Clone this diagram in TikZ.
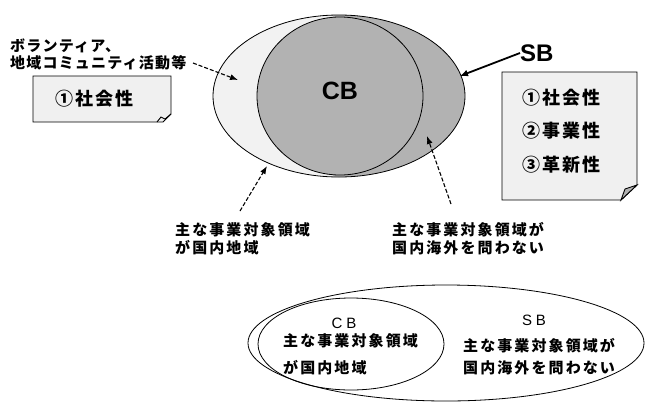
\documentclass[tikz,border=0pt]{standalone}
\usepackage{fontspec}
\setmainfont{Liberation Sans}
\newfontfamily\jp[LetterSpace=14]{Noto Sans CJK JP}
\newfontfamily\jpn[LetterSpace=8]{Noto Sans CJK JP}
\newfontfamily\jpbox[LetterSpace=12]{Noto Sans CJK JP}
\newfontfamily\latsp[LetterSpace=25]{Liberation Sans}
\usetikzlibrary{arrows.meta}
\definecolor{darkfill}{HTML}{B2B2B2}
\definecolor{lightfill}{HTML}{F2F2F2}
\definecolor{boxfill}{HTML}{F0F0F0}
\tikzset{
  outline/.style={draw=black, line width=0.8pt},
  txt/.style={inner sep=0pt, anchor=west, align=left},
  lbl/.style={txt, font=\jp\bfseries\fontsize{15}{18}\selectfont},
  boxtxt/.style={txt, font=\jpbox\bfseries\fontsize{18}{20}\selectfont},
  dasharrow/.style={draw=black, line width=1.1pt, dashed, dash pattern=on 4pt off 2pt, -{Latex[length=8pt,width=6pt]}},
  solidarrow/.style={draw=black, line width=1.8pt, -{Latex[length=8pt,width=7pt]}},
  memo/.style={draw=black, line width=0.9pt, fill=boxfill}
}
\begin{document}
\begin{tikzpicture}[x=1pt,y=-1pt]
\useasboundingbox (0,0) rectangle (645,405);
% ---- top diagram ----
\begin{scope}
  \fill[darkfill] (339,96) ellipse [x radius=126, y radius=81];
  \clip (200,0) rectangle (333,200);
  \fill[lightfill] (339,96) ellipse [x radius=126, y radius=81];
\end{scope}
\draw[outline] (339,96) ellipse [x radius=126, y radius=81];
\draw[outline, fill=darkfill] (340,96) ellipse [x radius=83, y radius=79];
\node[inner sep=0pt, font=\bfseries\fontsize{25}{25}\selectfont] (cb) at (340,91) {CB};

% volunteer label and box
\node[txt, font=\jpn\bfseries\fontsize{15}{17}\selectfont] (vol) at (10,54) {ボランティア、\\地域コミュニティ活動等};
\coordinate (volend) at (193,63);
\coordinate (volhead) at (238,80);
\draw[dasharrow] (volend) -- (volhead);

\draw[memo] (33,76) -- (171,76) -- (171,114) -- (163,122) -- (33,122) -- cycle;
\draw[line width=0.9pt] (157,122) -- (161,117) -- (165,119) -- (171,114);
\node[boxtxt] (soc1) at (55,99) {①社会性};

% SB label and box
\node[inner sep=0pt, anchor=west, font=\bfseries\fontsize{24}{24}\selectfont] (sb) at (520,53) {SB};
\coordinate (sbhead) at (460,76);
\draw[solidarrow] (sb.west) -- (sbhead);

\draw[memo] (502,72) -- (637,72) -- (637,185) -- (621,200) -- (502,200) -- cycle;
\draw[line width=0.9pt, fill=darkfill] (621,200) -- (625,189) -- (637,185) -- cycle;
\node[boxtxt] (s1) at (522,98) {①社会性};
\node[boxtxt] (s2) at (522,131) {②事業性};
\node[boxtxt] (s3) at (522,165) {③革新性};

% lower labels
\node[lbl] (domestic) at (175,239) {主な事業対象領域\\が国内地域};
\coordinate (domtail) at (240,211);
\coordinate (domhead) at (267,166);
\draw[dasharrow] (domtail) -- (domhead);

\node[lbl] (global) at (392,239) {主な事業対象領域が\\国内海外を問わない};
\coordinate (globtail) at (451,204);
\coordinate (globhead) at (427,136);
\draw[dasharrow] (globtail) -- (globhead);

% ---- bottom diagram ----
\draw[outline] (446,343) ellipse [x radius=198, y radius=58];
\draw[outline] (351,344) ellipse [x radius=93, y radius=46];
\node[inner sep=0pt, font=\latsp\fontsize{15}{15}\selectfont] (cb2) at (344,323) {CB};
\node[lbl] (cbt1) at (283,341) {主な事業対象領域};
\node[lbl] (cbt2) at (283,368) {が国内地域};
\node[inner sep=0pt, font=\latsp\fontsize{15}{15}\selectfont] (sb2) at (534,320) {SB};
\node[lbl] (sbt1) at (463,346) {主な事業対象領域が};
\node[lbl] (sbt2) at (463,368) {国内海外を問わない};
\end{tikzpicture}
\end{document}
